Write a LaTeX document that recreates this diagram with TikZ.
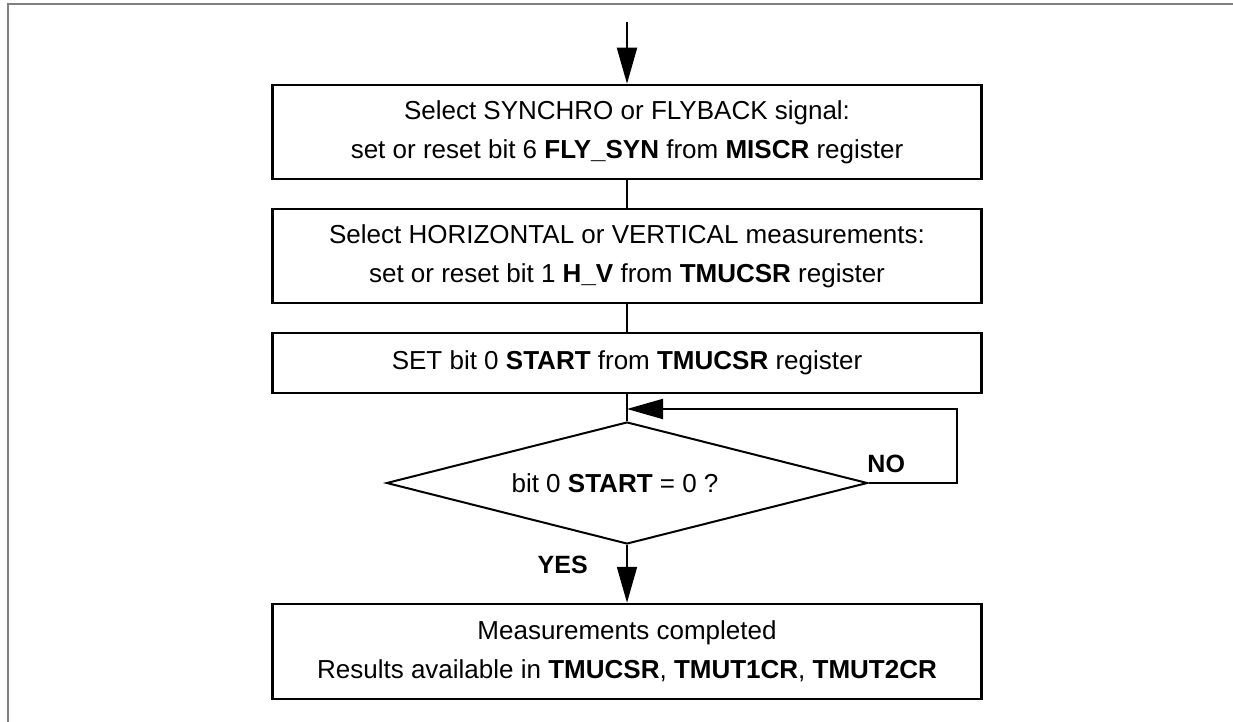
\documentclass[tikz,border=0pt]{standalone}
\usepackage{fontspec}
\setmainfont{Liberation Sans}
\usetikzlibrary{shapes.geometric,arrows.meta}
\tikzstyle{block} = [draw, line width=2.5pt, rectangle, align=center,
    minimum width=709pt, minimum height=94pt, font=\fontsize{26}{39}\selectfont]
\tikzstyle{decision} = [draw, line width=2pt, diamond, inner sep=0pt,
    minimum width=481pt, minimum height=122pt]
\tikzstyle{input} = [coordinate]
\tikzstyle{output} = [coordinate]
\tikzstyle{txt} = [font=\fontsize{26}{39}\selectfont]
\tikzstyle{answer} = [font=\fontsize{25}{30}\selectfont\bfseries]
\tikzstyle{frame} = [draw=gray, line width=2pt]

\begin{document}
\begin{tikzpicture}[auto, x=1pt, y=1pt, node distance=120pt, line width=2pt,
    >={Triangle[length=36pt, width=20pt]}]
    \useasboundingbox (0,0) rectangle (1233,-722);
    % page frame
    \draw [frame] (8,-722) |- (1233,-4);

    % Input
    \node [input, name=input] at (627,-22) {};

    % register set up blocks
    \node [block, below of=input, node distance=110pt] (flysyn)
        {Select SYNCHRO or FLYBACK signal:\\
         set or reset bit 6 \textbf{FLY\_SYN} from \textbf{MISCR} register};
    \node [block, below of=flysyn, node distance=124pt] (hv)
        {Select HORIZONTAL or VERTICAL measurements:\\
         set or reset bit 1 \textbf{H\_V} from \textbf{TMUCSR} register};
    \node [block, below of=hv, node distance=107pt, minimum height=60pt] (start)
        {SET bit 0 \textbf{START} from \textbf{TMUCSR} register};

    % waiting loop
    \node [decision, below of=start] (check) {};
    \node [txt] at ([xshift=-12pt]check.center) (checktext)
        {bit 0 \textbf{START} = 0 ?};
    \node [output, below of=start, node distance=46pt] (join) {};
    \node [output, right of=join, node distance=330pt] (loop) {};

    % Output block
    \node [block, below of=check, node distance=168.5pt, minimum height=95pt] (done)
        {Measurements completed\\
         Results available in \textbf{TMUCSR}, \textbf{TMUT1CR}, \textbf{TMUT2CR}};

    % Once the nodes are placed, connecting them is easy.
    \draw [->] (input) -- (flysyn);
    \draw [-] (flysyn) -- (hv);
    \draw [-] (hv) -- (start);
    \draw [-] (start) -- (check);
    \draw [->] (check.east) -| node [answer, above=6pt, pos=0.1] {NO} (loop) -- (join);
    \draw [->] (check) -- node [answer, left=35pt, pos=0.35] {YES} (done);

\end{tikzpicture}
\end{document}
